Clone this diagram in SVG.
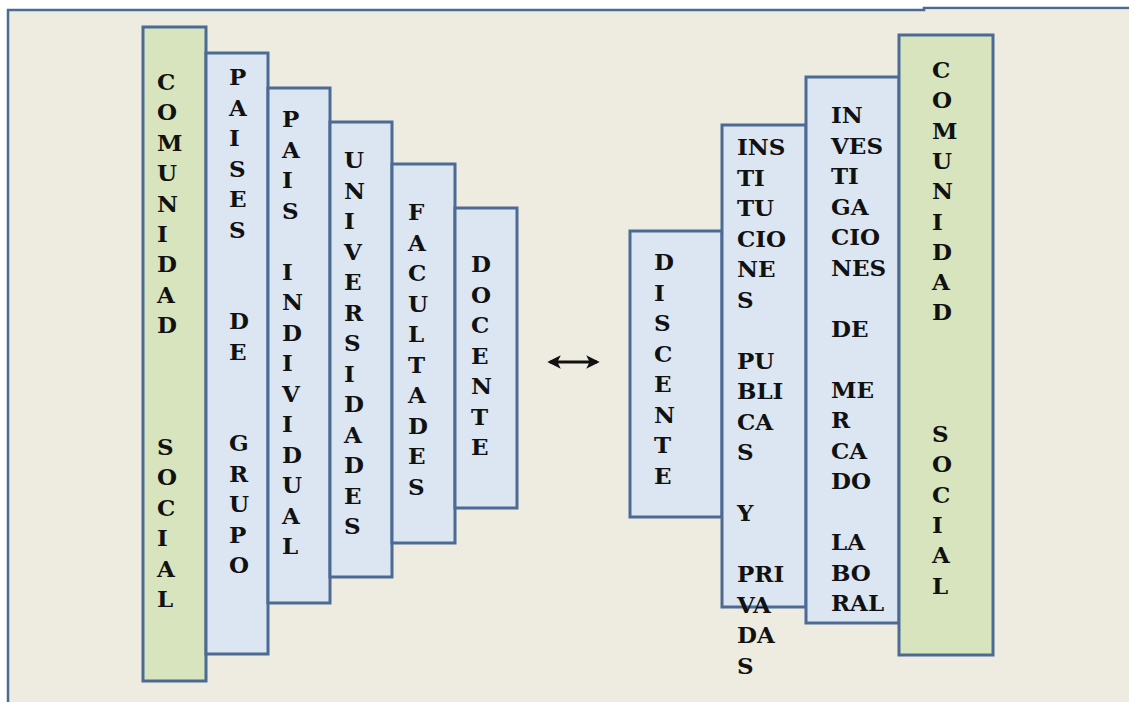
<svg xmlns="http://www.w3.org/2000/svg" width="1129" height="702" viewBox="0 0 1129 702">
<style>
.box{stroke:#4C6B94;stroke-width:3}
.blue{fill:#DCE6F2}
.green{fill:#D7E4BD}
text{font-family:"DejaVu Serif","Liberation Serif",serif;font-weight:bold;font-size:23px;fill:#111111}
</style>
<defs>
<marker id="ah" viewBox="0 0 10 10" refX="8" refY="5" markerWidth="4.5" markerHeight="4.5" orient="auto-start-reverse">
<path d="M0,0 L10,5 L0,10 L2.5,5 Z" fill="#111"/>
</marker>
</defs>
<rect x="0" y="0" width="1129" height="702" fill="#FFFFFF"/>
<rect x="8" y="10" width="1121" height="692" fill="#EEEBE0"/>
<polyline points="8,702 8,10 924,10 924,8 1129,8" fill="none" stroke="#4C6B94" stroke-width="2.5"/>

<g id="comunidad-social-izq">
<rect class="box green" x="143" y="27" width="63" height="654"/>
<text x="157" y="90">C</text><text x="157" y="120.4">O</text><text x="157" y="150.8">M</text><text x="157" y="181.2">U</text><text x="157" y="211.6">N</text><text x="157" y="242">I</text><text x="157" y="272.4">D</text><text x="157" y="302.8">A</text><text x="157" y="333.2">D</text>
<text x="157" y="455">S</text><text x="157" y="485.4">O</text><text x="157" y="515.8">C</text><text x="157" y="546.2">I</text><text x="157" y="576.6">A</text><text x="157" y="607">L</text>
</g>

<g id="paises-de-grupo">
<rect class="box blue" x="206" y="53" width="62" height="601"/>
<text x="229" y="85">P</text><text x="229" y="115.5">A</text><text x="229" y="146">I</text><text x="229" y="176.5">S</text><text x="229" y="207">E</text><text x="229" y="237.5">S</text>
<text x="229" y="329">D</text><text x="229" y="359.5">E</text>
<text x="229" y="451">G</text><text x="229" y="481.5">R</text><text x="229" y="512">U</text><text x="229" y="542.5">P</text><text x="229" y="573">O</text>
</g>

<g id="pais-individual">
<rect class="box blue" x="268" y="88" width="62" height="515"/>
<text x="282" y="127">P</text><text x="282" y="157.5">A</text><text x="282" y="188">I</text><text x="282" y="218.5">S</text>
<text x="282" y="279.5">I</text><text x="282" y="310">N</text><text x="282" y="340.5">D</text><text x="282" y="371">I</text><text x="282" y="401.5">V</text><text x="282" y="432">I</text><text x="282" y="462.5">D</text><text x="282" y="493">U</text><text x="282" y="523.5">A</text><text x="282" y="554">L</text>
</g>

<g id="universidades">
<rect class="box blue" x="330" y="122" width="62" height="455"/>
<text x="344" y="168">U</text><text x="344" y="198.5">N</text><text x="344" y="229">I</text><text x="344" y="259.5">V</text><text x="344" y="290">E</text><text x="344" y="320.5">R</text><text x="344" y="351">S</text><text x="344" y="381.5">I</text><text x="344" y="412">D</text><text x="344" y="442.5">A</text><text x="344" y="473">D</text><text x="344" y="503.5">E</text><text x="344" y="534">S</text>
</g>

<g id="facultades">
<rect class="box blue" x="392" y="164" width="63" height="379"/>
<text x="408" y="220">F</text><text x="408" y="250.5">A</text><text x="408" y="281">C</text><text x="408" y="311.5">U</text><text x="408" y="342">L</text><text x="408" y="372.5">T</text><text x="408" y="403">A</text><text x="408" y="433.5">D</text><text x="408" y="464">E</text><text x="408" y="494.5">S</text>
</g>

<g id="docente">
<rect class="box blue" x="455" y="208" width="62" height="300"/>
<text x="471" y="272">D</text><text x="471" y="302.5">O</text><text x="471" y="333">C</text><text x="471" y="363.5">E</text><text x="471" y="394">N</text><text x="471" y="424.5">T</text><text x="471" y="455">E</text>
</g>

<g id="discente">
<rect class="box blue" x="630" y="231" width="92" height="286"/>
<text x="654" y="270">D</text><text x="654" y="300.5">I</text><text x="654" y="331">S</text><text x="654" y="361.5">C</text><text x="654" y="392">E</text><text x="654" y="422.5">N</text><text x="654" y="453">T</text><text x="654" y="483.5">E</text>
</g>

<g id="instituciones">
<rect class="box blue" x="722" y="125" width="84" height="482"/>
<text x="737" y="155">INS</text><text x="737" y="185.5">TI</text><text x="737" y="216">TU</text><text x="737" y="246.5">CIO</text><text x="737" y="277">NE</text><text x="737" y="307.5">S</text>
<text x="737" y="368.5">PU</text><text x="737" y="399">BLI</text><text x="737" y="429.5">CA</text><text x="737" y="460">S</text>
<text x="737" y="521">Y</text>
<text x="737" y="582">PRI</text><text x="737" y="612.5">VA</text><text x="737" y="643">DA</text><text x="737" y="673.5">S</text>
</g>

<g id="investigaciones">
<rect class="box blue" x="806" y="77" width="93" height="546"/>
<text x="831" y="123">IN</text><text x="831" y="153.5">VES</text><text x="831" y="184">TI</text><text x="831" y="214.5">GA</text><text x="831" y="245">CIO</text><text x="831" y="275.5">NES</text>
<text x="831" y="336.5">DE</text>
<text x="831" y="397.5">ME</text><text x="831" y="428">R</text><text x="831" y="458.5">CA</text><text x="831" y="489">DO</text>
<text x="831" y="550">LA</text><text x="831" y="580.5">BO</text><text x="831" y="611">RAL</text>
</g>

<g id="comunidad-social-der">
<rect class="box green" x="899" y="35" width="94" height="620"/>
<text x="932" y="78">C</text><text x="932" y="108.3">O</text><text x="932" y="138.6">M</text><text x="932" y="168.9">U</text><text x="932" y="199.2">N</text><text x="932" y="229.5">I</text><text x="932" y="259.8">D</text><text x="932" y="290.1">A</text><text x="932" y="320.4">D</text>
<text x="932" y="442">S</text><text x="932" y="472.3">O</text><text x="932" y="502.6">C</text><text x="932" y="532.9">I</text><text x="932" y="563.2">A</text><text x="932" y="593.5">L</text>
</g>

<g id="connectors">
<line x1="550" y1="362" x2="597" y2="362" stroke="#111" stroke-width="3" marker-start="url(#ah)" marker-end="url(#ah)"/>
</g>
</svg>
